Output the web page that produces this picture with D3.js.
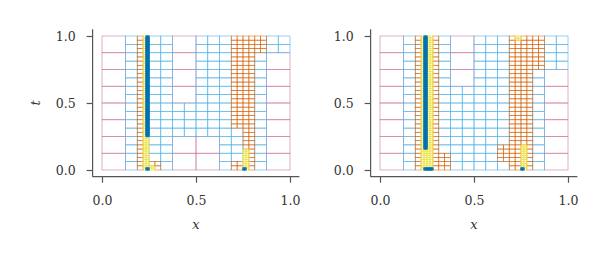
<!DOCTYPE html>
<html>
<head>
<meta charset="utf-8">
<script src="https://cdn.jsdelivr.net/npm/d3@7"></script>
<style>
  body { margin: 0; background: #fff; }
</style>
</head>
<body>
<div id="chart"></div>
<script>
// colours per refinement level (coarse -> fine)
var levelColors = ["#CC79A7", "#56B4E9", "#D55E00", "#F0E442", "#0072B2"];
var levelWidths = [0.7, 0.7, 0.7, 0.8, 1.3];
var levelOpacity = [0.85, 0.85, 0.72, 0.9, 0.9];
var xTicks = [0, 0.5, 1];
var tTicks = [0, 0.5, 1];
var baseCells = 8;
var serif = "'DejaVu Serif', serif";

// refinement regions: [level, x0, x1, t0, t1]
var leftBlocks = [
    [1, 0.125, 0.375, 0, 1],
    [1, 0.375, 0.5, 0.25, 0.5],
    [1, 0.5, 0.6875, 0.25, 1],
    [1, 0.625, 0.75, 0, 0.3125],
    [1, 0.8125, 0.875, 0, 1],
    [1, 0.875, 1, 0.875, 1],
    [2, 0.1875, 0.21875, 0, 1],
    [2, 0.6875, 0.875, 0.875, 1],
    [2, 0.6875, 0.8125, 0.3125, 0.875],
    [2, 0.75, 0.8125, 0, 0.3125],
    [2, 0.6875, 0.75, 0, 0.0625],
    [2, 0.25, 0.3125, 0, 0.0625],
    [3, 0.21875, 0.25, 0, 1],
    [3, 0.25, 0.28125, 0, 0.03125],
    [3, 0.75, 0.78125, 0, 0.15625],
    [4, 0.234375, 0.25, 0.25, 1],
    [4, 0.234375, 0.25, 0, 0.015625],
    [4, 0.75, 0.765625, 0, 0.015625]
];

var rightBlocks = [
    [1, 0.125, 0.375, 0, 1],
    [1, 0.375, 0.5, 0, 0.625],
    [1, 0.5, 0.6875, 0, 1],
    [1, 0.8125, 0.875, 0, 0.75],
    [1, 0.875, 1, 0.75, 1],
    [2, 0.1875, 0.21875, 0, 1],
    [2, 0.28125, 0.3125, 0, 1],
    [2, 0.1875, 0.375, 0, 0.125],
    [2, 0.6875, 0.875, 0.75, 1],
    [2, 0.6875, 0.8125, 0, 0.75],
    [2, 0.625, 0.6875, 0.0625, 0.1875],
    [3, 0.21875, 0.28125, 0, 1],
    [3, 0.71875, 0.75, 0.96875, 1],
    [3, 0.75, 0.78125, 0, 0.1875],
    [4, 0.234375, 0.25, 0.15625, 1],
    [4, 0.234375, 0.28125, 0, 0.015625],
    [4, 0.75, 0.765625, 0, 0.015625]
];

// turn the refinement regions into quadtree leaves
function buildLeaves(blocks) {
    var leaves = [];
    var eps = 1e-9;
    function wanted(x0, x1, t0, t1) {
        var lv = 0;
        blocks.forEach(function(b) {
            if (b[1] < x1 - eps && b[2] > x0 + eps && b[3] < t1 - eps && b[4] > t0 + eps) {
                lv = Math.max(lv, b[0]);
            }
        });
        return lv;
    }
    function visit(x0, t0, size, level) {
        if (wanted(x0, x0 + size, t0, t0 + size) > level) {
            var h = size / 2;
            visit(x0, t0, h, level + 1);
            visit(x0 + h, t0, h, level + 1);
            visit(x0, t0 + h, h, level + 1);
            visit(x0 + h, t0 + h, h, level + 1);
        } else {
            leaves.push({ x0: x0, t0: t0, size: size, level: level });
        }
    }
    for (var i = 0; i < baseCells; i++) {
        for (var j = 0; j < baseCells; j++) {
            visit(i / baseCells, j / baseCells, 1 / baseCells, 0);
        }
    }
    return leaves.sort(function(a, b) { return a.level - b.level; });
}

var svg = d3.select("#chart").append("svg")
    .attr("width", 608)
    .attr("height", 261);

function drawPanel(blocks, left, showT) {
    var x = d3.scaleLinear().domain([-0.05, 1.05]).range([left, left + 206.8]);
    var y = d3.scaleLinear().domain([-0.05, 1.05]).range([176.7, 29.3]);
    var g = svg.append("g");

    g.selectAll("rect.cell")
        .data(buildLeaves(blocks))
        .enter().append("rect")
        .attr("class", "cell")
        .attr("x", d => x(d.x0))
        .attr("y", d => y(d.t0 + d.size))
        .attr("width", d => x(d.x0 + d.size) - x(d.x0))
        .attr("height", d => y(d.t0) - y(d.t0 + d.size))
        .attr("fill", "none")
        .attr("stroke", d => levelColors[d.level])
        .attr("stroke-opacity", d => levelOpacity[d.level])
        .attr("stroke-width", d => levelWidths[d.level]);

    var xAxis = g.append("g")
        .attr("transform", "translate(0,176.7)")
        .call(d3.axisBottom(x).tickValues(xTicks).tickFormat(d3.format(".1f")).tickSize(6).tickPadding(13));
    var yAxis = g.append("g")
        .attr("transform", "translate(" + left + ",0)")
        .call(d3.axisLeft(y).tickValues(tTicks).tickFormat(d3.format(".1f")).tickSize(6).tickPadding(11));

    [xAxis, yAxis].forEach(function(a) {
        a.attr("font-family", null);
        a.select(".domain").attr("stroke", "#555").attr("stroke-width", 1.2);
        a.selectAll(".tick line").attr("stroke", "#555").attr("stroke-width", 1.2);
        a.selectAll(".tick text").attr("fill", "#333")
            .attr("font-size", 12.5).attr("font-family", serif);
    });
    xAxis.select(".domain").attr("d", "M" + x(-0.05) + ",0H" + x(1.05));
    yAxis.select(".domain").attr("d", "M0," + y(-0.05) + "V" + y(1.05));

    g.append("text")
        .attr("x", x(0.5))
        .attr("y", 229)
        .attr("text-anchor", "middle")
        .attr("font-size", 13)
        .attr("font-style", "italic")
        .attr("font-family", serif)
        .attr("fill", "#333")
        .text("x");

    if (showT) {
        g.append("text")
            .attr("transform", "translate(40," + y(0.5) + ") rotate(-90)")
            .attr("text-anchor", "middle")
            .attr("font-size", 13)
            .attr("font-style", "italic")
            .attr("font-family", serif)
            .attr("fill", "#333")
            .text("t");
    }
}

drawPanel(leftBlocks, 92.6, true);
drawPanel(rightBlocks, 370.6, false);
</script>
</body>
</html>
